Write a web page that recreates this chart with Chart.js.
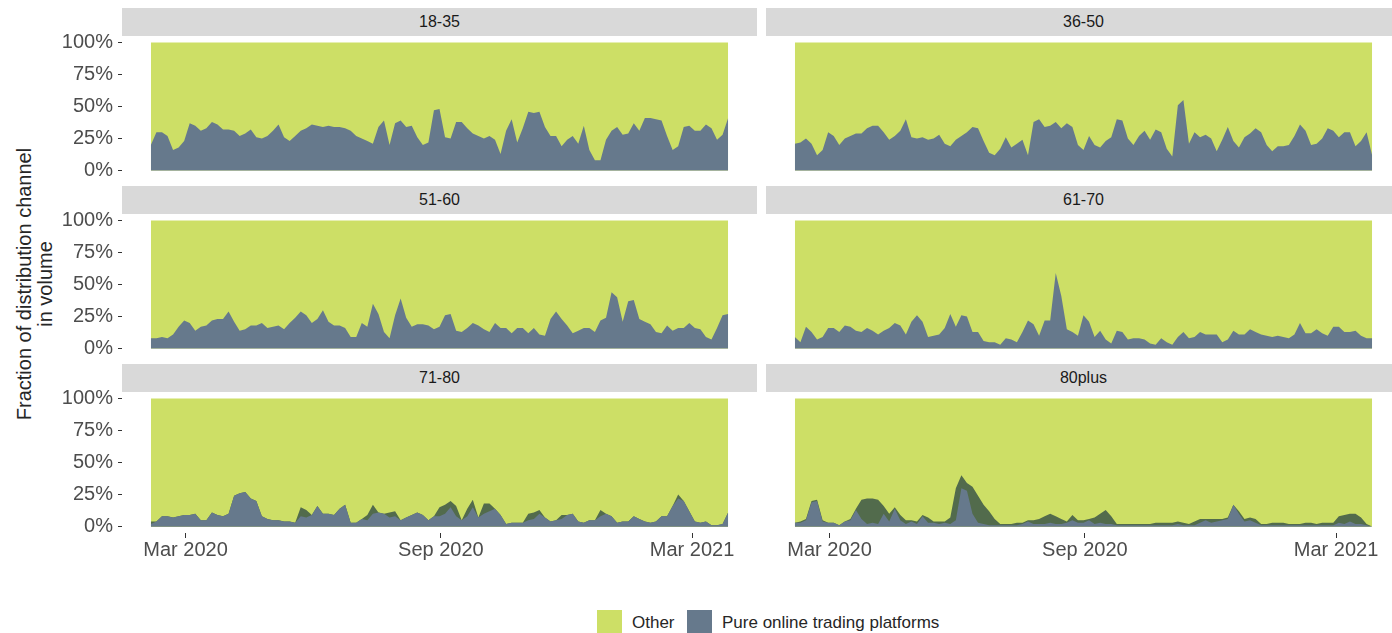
<!DOCTYPE html>
<html>
<head>
<meta charset="utf-8">
<script src="https://cdn.jsdelivr.net/npm/chart.js@4.4.1/dist/chart.umd.min.js"></script>
<style>
  html, body { margin: 0; padding: 0; background: #fff; overflow: hidden; }
  body { width: 1392px; height: 633px; position: relative; font-family: "Liberation Sans", Arial, sans-serif; }
  .strip { position: absolute; height: 28px; background: #d9d9d9; color: #1a1a1a; font-size: 16px; line-height: 28px; text-align: center; }
  canvas { position: absolute; }
  #ytitle { position: absolute; left: 35px; top: 284px; width: 500px; transform: translate(-50%, -50%) rotate(-90deg);
            text-align: center; font-size: 20px; line-height: 21px; color: #262626; }
  .key { position: absolute; top: 610px; width: 25px; height: 24px; }
  .ltxt { position: absolute; top: 613px; font-size: 17px; line-height: 20px; color: #262626; }
</style>
</head>
<body>
<div id="ytitle">Fraction of distribution channel<br>in volume</div>
<div class="key" style="left:597px;background:#cddf66"></div>
<div class="ltxt" style="left:632px">Other</div>
<div class="key" style="left:687px;background:#66798c"></div>
<div class="ltxt" style="left:722px">Pure online trading platforms</div>

<script>
// facet labels
const ageGroups = ['18-35', '36-50', '51-60', '61-70', '71-80', '80plus'];

// x: days counted from 1 Mar 2020, one value every 4 days from 5 Feb 2020
const startDay = -25;
const stepDays = 4;
const tickDays = [0, 184, 365];
const tickLabels = ['Mar 2020', 'Sep 2020', 'Mar 2021'];
const yTicks = [0, 0.25, 0.5, 0.75, 1];

// share of pure online trading platforms
const pure1835 = [0.20,0.30,0.30,0.27,0.16,0.18,0.23,0.37,0.35,0.31, 0.33,0.38,0.36,0.32,0.32,0.31,0.27,0.29,0.32,0.26,
  0.25,0.27,0.31,0.36,0.26,0.23,0.27,0.31,0.33,0.36, 0.35,0.34,0.35,0.34,0.34,0.33,0.31,0.27,0.25,0.23,
  0.21,0.34,0.39,0.20,0.37,0.39,0.34,0.35,0.26,0.20, 0.22,0.47,0.48,0.26,0.25,0.38,0.38,0.33,0.29,0.27,
  0.25,0.27,0.24,0.13,0.31,0.40,0.22,0.33,0.46,0.45, 0.46,0.34,0.27,0.27,0.19,0.24,0.27,0.21,0.35,0.16,
  0.08,0.08,0.24,0.31,0.34,0.28,0.29,0.37,0.31,0.41, 0.41,0.40,0.39,0.27,0.16,0.19,0.34,0.35,0.31,0.31,
  0.36,0.33,0.24,0.28,0.41];
const pure3650 = [0.21,0.22,0.25,0.21,0.12,0.16,0.30,0.27,0.20,0.25, 0.27,0.29,0.29,0.33,0.35,0.35,0.30,0.24,0.27,0.31,
  0.40,0.26,0.25,0.26,0.24,0.25,0.28,0.21,0.19,0.24, 0.27,0.30,0.34,0.33,0.23,0.14,0.12,0.17,0.26,0.18,
  0.21,0.24,0.12,0.38,0.40,0.34,0.35,0.38,0.33,0.37, 0.34,0.20,0.16,0.27,0.20,0.18,0.23,0.26,0.40,0.39,
  0.25,0.20,0.27,0.31,0.24,0.32,0.30,0.17,0.11,0.51, 0.55,0.21,0.30,0.26,0.28,0.25,0.15,0.24,0.34,0.23,
  0.18,0.26,0.29,0.33,0.30,0.20,0.15,0.19,0.19,0.20, 0.27,0.36,0.31,0.20,0.21,0.25,0.33,0.31,0.26,0.30,
  0.30,0.19,0.23,0.30,0.12];
const pure5160 = [0.08,0.08,0.09,0.08,0.11,0.17,0.22,0.20,0.14,0.17, 0.18,0.22,0.23,0.23,0.29,0.21,0.14,0.15,0.18,0.18,
  0.20,0.16,0.17,0.18,0.15,0.20,0.24,0.29,0.26,0.20, 0.23,0.30,0.21,0.18,0.18,0.16,0.09,0.09,0.20,0.17,
  0.35,0.27,0.13,0.08,0.26,0.39,0.24,0.17,0.19,0.19, 0.18,0.15,0.17,0.26,0.27,0.14,0.13,0.16,0.20,0.18,
  0.15,0.13,0.20,0.16,0.16,0.12,0.16,0.16,0.12,0.16, 0.11,0.10,0.23,0.29,0.23,0.18,0.12,0.14,0.16,0.16,
  0.13,0.22,0.24,0.44,0.40,0.21,0.37,0.38,0.23,0.21, 0.19,0.13,0.12,0.18,0.14,0.16,0.16,0.20,0.16,0.15,
  0.09,0.07,0.16,0.26,0.27];
const pure6170 = [0.09,0.05,0.17,0.13,0.07,0.09,0.16,0.16,0.13,0.18, 0.17,0.14,0.13,0.16,0.14,0.11,0.14,0.16,0.20,0.18,
  0.11,0.21,0.26,0.21,0.09,0.10,0.11,0.16,0.27,0.17, 0.26,0.25,0.13,0.13,0.06,0.05,0.05,0.03,0.08,0.07,
  0.05,0.13,0.22,0.19,0.10,0.22,0.22,0.59,0.41,0.15, 0.13,0.10,0.26,0.21,0.09,0.14,0.07,0.04,0.14,0.13,
  0.07,0.08,0.08,0.07,0.04,0.03,0.08,0.05,0.03,0.09, 0.13,0.08,0.09,0.13,0.11,0.11,0.11,0.05,0.07,0.14,
  0.11,0.11,0.15,0.13,0.11,0.10,0.09,0.10,0.09,0.08, 0.11,0.20,0.12,0.12,0.15,0.12,0.10,0.17,0.17,0.13,
  0.13,0.14,0.10,0.08,0.08];
const pure7180 = [0.02,0.04,0.08,0.08,0.07,0.08,0.09,0.09,0.10,0.05, 0.05,0.11,0.09,0.08,0.10,0.24,0.26,0.27,0.22,0.20,
  0.08,0.06,0.05,0.05,0.04,0.04,0.03,0.08,0.07,0.09, 0.16,0.10,0.10,0.09,0.14,0.17,0.03,0.03,0.06,0.05,
  0.10,0.11,0.10,0.07,0.08,0.05,0.07,0.09,0.11,0.09, 0.05,0.08,0.08,0.10,0.15,0.08,0.05,0.08,0.15,0.07,
  0.10,0.12,0.14,0.09,0.02,0.03,0.03,0.03,0.05,0.06, 0.10,0.07,0.04,0.05,0.06,0.09,0.10,0.04,0.03,0.05,
  0.05,0.08,0.10,0.08,0.03,0.04,0.04,0.08,0.06,0.04, 0.03,0.04,0.08,0.08,0.16,0.22,0.20,0.12,0.04,0.03,
  0.04,0.01,0.01,0.02,0.11];
const pure80plus = [0.03,0.03,0.05,0.19,0.20,0.04,0.03,0.03,0.01,0.04, 0.05,0.13,0.06,0.02,0.03,0.02,0.10,0.04,0.14,0.05,
  0.02,0.04,0.02,0.08,0.03,0.03,0.02,0.03,0.02,0.05, 0.30,0.28,0.10,0.03,0.02,0.01,0.01,0.01,0.01,0.01,
  0.01,0.02,0.04,0.02,0.02,0.02,0.03,0.02,0.02,0.03, 0.05,0.03,0.03,0.05,0.02,0.03,0.02,0.02,0.01,0.01,
  0.01,0.01,0.01,0.01,0.01,0.01,0.01,0.01,0.01,0.02, 0.01,0.01,0.01,0.03,0.05,0.03,0.04,0.05,0.06,0.17,
  0.10,0.04,0.05,0.03,0.01,0.01,0.01,0.01,0.01,0.01, 0.01,0.01,0.01,0.01,0.01,0.01,0.01,0.01,0.03,0.02,
  0.04,0.02,0.02,0.01,0.00];

// overlapping area outline where the two series cross (dark green in the picture)
const hull7180 = [0.04,0.04,0.08,0.08,0.07,0.08,0.09,0.09,0.10,0.05, 0.05,0.11,0.09,0.08,0.10,0.24,0.26,0.27,0.22,0.20,
  0.08,0.06,0.05,0.05,0.04,0.04,0.03,0.15,0.13,0.09, 0.16,0.10,0.10,0.09,0.14,0.17,0.03,0.03,0.06,0.09,
  0.17,0.11,0.10,0.11,0.12,0.05,0.07,0.09,0.11,0.09, 0.05,0.08,0.15,0.17,0.20,0.16,0.05,0.14,0.21,0.07,
  0.18,0.18,0.14,0.09,0.02,0.03,0.03,0.03,0.10,0.11, 0.13,0.07,0.04,0.05,0.09,0.09,0.10,0.04,0.03,0.05,
  0.05,0.13,0.10,0.08,0.03,0.04,0.04,0.08,0.06,0.04, 0.03,0.04,0.08,0.08,0.16,0.25,0.20,0.12,0.04,0.03,
  0.04,0.01,0.01,0.02,0.11];
const hull80plus = [0.03,0.04,0.06,0.20,0.21,0.05,0.03,0.03,0.01,0.04, 0.06,0.14,0.21,0.22,0.22,0.21,0.16,0.10,0.15,0.09,
  0.05,0.05,0.04,0.09,0.07,0.04,0.04,0.04,0.07,0.30, 0.40,0.34,0.31,0.24,0.17,0.12,0.06,0.02,0.02,0.02,
  0.03,0.03,0.05,0.05,0.06,0.08,0.10,0.08,0.06,0.04, 0.09,0.05,0.05,0.06,0.07,0.10,0.13,0.08,0.02,0.02,
  0.02,0.02,0.02,0.02,0.02,0.03,0.03,0.03,0.03,0.04, 0.03,0.02,0.04,0.06,0.06,0.06,0.06,0.06,0.07,0.17,
  0.12,0.06,0.07,0.06,0.02,0.02,0.03,0.03,0.03,0.02, 0.02,0.02,0.03,0.03,0.02,0.03,0.03,0.03,0.08,0.09,
  0.10,0.10,0.07,0.02,0.00];

const pureSeries = [pure1835, pure3650, pure5160, pure6170, pure7180, pure80plus];
const hullSeries = [null, null, null, null, hull7180, hull80plus];

const colOther = '#cddf66';
const colPure = '#66798c';
const colHull = '#526b4c';

const days = pure1835.map((v, i) => startDay + i * stepDays);
const span = days[days.length - 1] - days[0];
const xMin = days[0] - 0.05 * span;
const xMax = days[days.length - 1] + 0.05 * span;

// layout of the facets
const colLeft = [122, 766];
const rowTop = [36, 214, 392];
const panelW = 635, panelH = 141, pad = 10;
const tickFont = { family: '"Liberation Sans", Arial, sans-serif', size: 20 };

ageGroups.forEach(function(group, k) {
    const col = k % 2, row = Math.floor(k / 2);
    const bottom = row === 2;

    const strip = document.createElement('div');
    strip.className = 'strip';
    strip.style.left = colLeft[col] + 'px';
    strip.style.top = (rowTop[row] - 28) + 'px';
    strip.style.width = panelW + 'px';
    strip.textContent = group;
    document.body.appendChild(strip);

    const canvas = document.createElement('canvas');
    const left = col === 0 ? 0 : colLeft[col];
    const width = col === 0 ? colLeft[0] + panelW : panelW;
    const height = pad + panelH + (bottom ? 40 : pad);
    canvas.width = width; canvas.height = height;
    canvas.style.left = left + 'px';
    canvas.style.top = (rowTop[row] - pad) + 'px';
    canvas.style.width = width + 'px'; canvas.style.height = height + 'px';
    document.body.appendChild(canvas);

    const pure = pureSeries[k];
    const other = pure.map(v => 1 - v);
    const datasets = [
        { label: 'Pure online trading platforms', data: days.map((d, i) => ({ x: d, y: pure[i] })),
          stack: 'main', backgroundColor: colPure, fill: 'origin' }
    ];
    if (hullSeries[k]) {
        datasets.push({ label: 'overlap', data: days.map((d, i) => ({ x: d, y: hullSeries[k][i] })),
          stack: 'hull', backgroundColor: colHull, fill: 'origin' });
    }
    datasets.push({ label: 'Other', data: days.map((d, i) => ({ x: d, y: other[i] })),
          stack: 'main', backgroundColor: colOther, fill: 'origin' });

    new Chart(canvas.getContext('2d'), {
        type: 'line',
        data: { datasets: datasets },
        options: {
            responsive: false,
            animation: false,
            layout: { padding: { top: pad, bottom: bottom ? 0 : pad, left: 0, right: 0 } },
            plugins: { legend: { display: false }, tooltip: { enabled: false } },
            elements: { point: { radius: 0 }, line: { borderWidth: 0, tension: 0 } },
            scales: {
                x: {
                    type: 'linear', min: xMin, max: xMax, display: bottom,
                    afterBuildTicks: s => { s.ticks = tickDays.map(v => ({ value: v })); },
                    afterFit: s => {
                        if (bottom) s.height = 40;
                        s.paddingLeft = 0; s.paddingRight = 0;
                    },
                    ticks: { callback: (v, i) => tickLabels[i], font: tickFont, color: '#4d4d4d',
                             padding: 0, maxRotation: 0, autoSkip: false },
                    grid: { display: true, drawOnChartArea: false, drawTicks: true, tickLength: 5, color: '#333333' },
                    border: { display: false }
                },
                y: {
                    stacked: true, min: -0.05, max: 1.05, display: col === 0,
                    afterBuildTicks: s => { s.ticks = yTicks.map(v => ({ value: v })); },
                    afterFit: s => {
                        if (col === 0) s.width = colLeft[0];
                        s.paddingTop = 0; s.paddingBottom = 0;
                    },
                    ticks: { callback: v => Math.round(v * 100) + '%', font: tickFont, color: '#4d4d4d',
                             padding: 5, autoSkip: false },
                    grid: { display: true, drawOnChartArea: false, drawTicks: true, tickLength: 4, color: '#333333' },
                    border: { display: false }
                }
            }
        }
    });
});
</script>
</body>
</html>
